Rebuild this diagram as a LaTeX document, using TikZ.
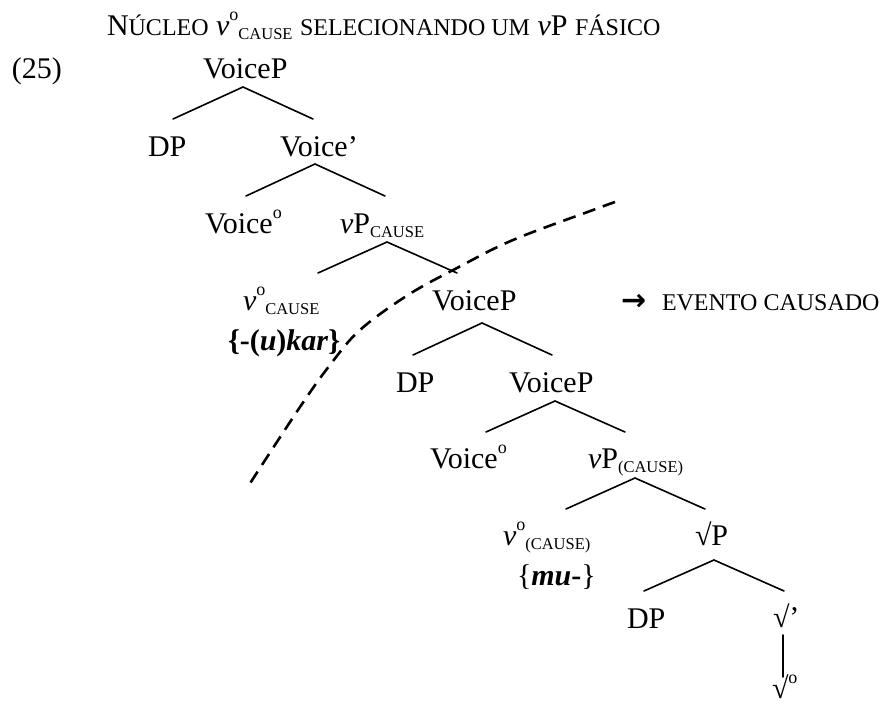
\documentclass[tikz,border=0pt]{standalone}
\usepackage{fontspec}
\setmainfont{Liberation Serif}
\newfontfamily\arrowfont{DejaVu Sans}
\newcommand\Sup[1]{\raisebox{15pt}{\fontsize{18}{18}\selectfont #1}}
\newcommand\Sub[1]{\raisebox{-4pt}{\fontsize{16.5}{17}\selectfont #1}}
\newcommand\Smc[1]{{\fontsize{24}{24}\selectfont #1}}
\begin{document}
\begin{tikzpicture}[x=1pt,y=-1pt,
  lab/.style={inner sep=0pt, outer sep=0pt, anchor=base west, font=\fontsize{30}{36}\selectfont},
  branch/.style={line width=1.6pt, line cap=round},
  cut/.style={line width=2.6pt, dash pattern=on 13pt off 8pt}]
\useasboundingbox (0,0) rectangle (892,704);
% title and example number
\node[lab] (title) at (107,35) {N\Smc{ÚCLEO} \textit{v}\Sup{o}\Sub{CAUSE} \Smc{SELECIONANDO UM} \textit{v}P \Smc{FÁSICO}};
\node[lab] (ex) at (12,78) {(25)};
% tree labels
\node[lab] (vp1) at (203,78) {VoiceP};
\node[lab] (dp1) at (148,156) {DP};
\node[lab] (vbar) at (280,156) {Voice’};
\node[lab] (v0a) at (205,233) {Voice\Sup{o}};
\node[lab] (vpc) at (340,233) {\textit{v}P\Sub{CAUSE}};
\node[lab] (lvc) at (243,310) {\textit{v}\Sup{o}\Sub{CAUSE}};
\node[lab] (kar) at (228,350) {\textbf{\{-(\textit{u})\textit{kar}\}}};
\node[lab] (vp2) at (432,310) {VoiceP};
\node[lab, font=\arrowfont\bfseries\fontsize{30}{30}\selectfont] (arr) at (621,310) {→};
\node[lab] (ev) at (662,310) {\Smc{EVENTO CAUSADO}};
\node[lab] (dp2) at (396,392) {DP};
\node[lab] (vp3) at (509,392) {VoiceP};
\node[lab] (v0b) at (430,468) {Voice\Sup{o}};
\node[lab] (vpc2) at (588,468) {\textit{v}P\Sub{(CAUSE)}};
\node[lab] (lvc2) at (503,545) {\textit{v}\Sup{o}\Sub{(CAUSE)}};
\node[lab] (mu) at (517,585) {\{\textbf{\textit{mu}-}\}};
\node[lab] (rp) at (695,545) {√P};
\node[lab] (dp3) at (627,628) {DP};
\node[lab] (rbar) at (773,627) {√’};
\node[lab] (r0) at (772,698) {√\Sup{o}};
% branch points
\coordinate (a1) at (243,87);  \coordinate (l1) at (173,119); \coordinate (r1) at (313,119);
\coordinate (a2) at (315,164); \coordinate (l2) at (246,196); \coordinate (r2) at (385,196);
\coordinate (a3) at (387,242); \coordinate (l3) at (318,273); \coordinate (r3) at (457,273);
\coordinate (a4) at (482,323); \coordinate (l4) at (413,355); \coordinate (r4) at (552,355);
\coordinate (a5) at (555,401); \coordinate (l5) at (486,432); \coordinate (r5) at (625,432);
\coordinate (a6) at (635,478); \coordinate (l6) at (566,509); \coordinate (r6) at (705,509);
\coordinate (a7) at (714,560); \coordinate (l7) at (644,591); \coordinate (r7) at (784,591);
\coordinate (vt) at (783,635); \coordinate (vb) at (783,677);
\draw[branch] (l1) -- (a1) -- (r1);
\draw[branch] (l2) -- (a2) -- (r2);
\draw[branch] (l3) -- (a3) -- (r3);
\draw[branch] (l4) -- (a4) -- (r4);
\draw[branch] (l5) -- (a5) -- (r5);
\draw[branch] (l6) -- (a6) -- (r6);
\draw[branch] (l7) -- (a7) -- (r7);
\draw[branch] (vt) -- (vb);
% dashed boundary
\draw[cut] plot[smooth, tension=0.6] coordinates {(615,202) (593,210) (513,240) (457,268) (408,295) (360,330) (330,365) (300,407) (247,488)};
\end{tikzpicture}
\end{document}
